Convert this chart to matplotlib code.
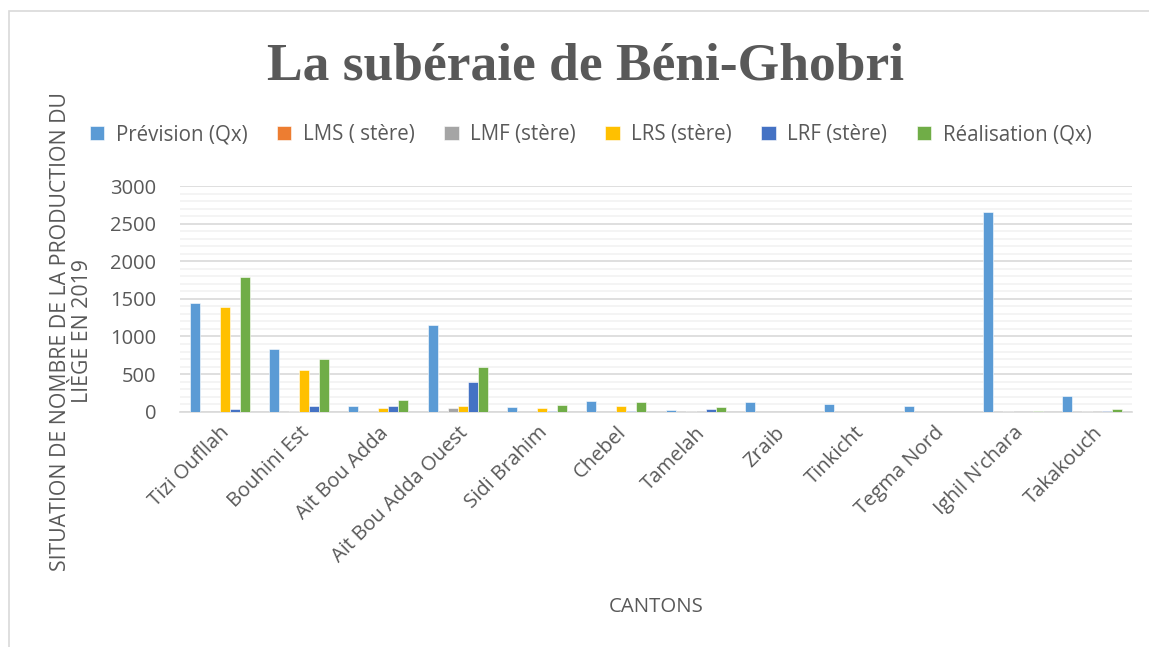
import numpy as np
import matplotlib
matplotlib.use("Agg")
import matplotlib.pyplot as plt
from matplotlib.patches import Rectangle
from matplotlib.ticker import MultipleLocator

cantons = ["Tizi Oufllah", "Bouhini Est", "Ait Bou Adda", "Ait Bou Adda Ouest",
           "Sidi Brahim", "Chebel", "Tamelah", "Zraib", "Tinkicht", "Tegma Nord",
           "Ighil N'chara", "Takakouch"]
series_names = ["Prévision (Qx)", "LMS ( stère)", "LMF (stère)", "LRS (stère)",
                "LRF (stère)", "Réalisation (Qx)"]
prevision = [1450, 840, 75, 1150, 60, 145, 20, 130, 100, 75, 2660, 215]
lms = [0, 0, 0, 0, 0, 0, 0, 0, 0, 0, 0, 0]
lmf = [0, 10, 0, 45, 0, 0, 10, 0, 0, 0, 3, 8]
lrs = [1390, 550, 50, 75, 50, 75, 0, 0, 0, 0, 0, 0]
lrf = [30, 80, 75, 390, 5, 10, 30, 0, 0, 0, 0, 5]
realisation = [1790, 700, 155, 600, 85, 125, 60, 0, 0, 0, 5, 30]
colors = ["#5B9BD5", "#ED7D31", "#A5A5A5", "#FFC000", "#4472C4", "#70AD47"]

txt = "#595959"
plt.rcParams['font.family'] = ['Open Sans', 'DejaVu Sans']

fig = plt.figure(figsize=(11.49, 6.47), dpi=100)
ax = fig.add_axes([180/1149, 1 - 411.7/647, 952/1149, (411.7 - 186)/647])

data = [prevision, lms, lmf, lrs, lrf, realisation]
x = np.arange(len(cantons))
w = 1 / (6 + 1.95)
for i, (vals, name, c) in enumerate(zip(data, series_names, colors)):
    ax.bar(x + (i - 2.5) * w, vals, w, color=c, label=name,
           edgecolor="white", linewidth=0.4, zorder=3)

ax.set_xlim(-0.5, len(cantons) - 0.5)
ax.set_ylim(0, 3000)
ax.yaxis.set_major_locator(MultipleLocator(500))
ax.yaxis.set_minor_locator(MultipleLocator(100))
ax.grid(which="major", axis="y", color="#D9D9D9", linewidth=1.2, zorder=0)
ax.grid(which="minor", axis="y", color="#F2F2F2", linewidth=1.2, zorder=0)
for s in ["left", "right", "top"]:
    ax.spines[s].set_visible(False)
ax.spines["bottom"].set_color("#D9D9D9")
ax.spines["bottom"].set_linewidth(1.2)
ax.tick_params(which="both", length=0, colors=txt, labelsize=14.5)
ax.tick_params(axis="y", pad=17)
ax.set_xticks(x)
ax.set_xticklabels(cantons, rotation=45, ha="right", rotation_mode="anchor")
ax.tick_params(axis="x", pad=8)

fig.text(0.5096, 0.897, "La subéraie de Béni-Ghobri", ha="center", va="center",
         fontsize=38.5, fontweight="bold", family="Liberation Serif", color=txt)
fig.text(0.062, 0.488, "SITUATION DE NOMBRE DE LA PRODUCTION DU\nLIÈGE EN 2019",
         rotation=90, ha="center", va="center", fontsize=15.3, color=txt,
         linespacing=1.05)
fig.text(0.571, 0.062, "CANTONS", ha="center", va="center", fontsize=14.7, color=txt)

fig.legend(loc="center", bbox_to_anchor=(0.514, 0.792), ncol=6, frameon=False,
           fontsize=14.8, handlelength=0.7, handleheight=0.7, handletextpad=0.55,
           columnspacing=1.45, labelcolor=txt)

fig.patches.append(Rectangle((9/1149, -0.01), 1.2, 1 - 11/647 + 0.01,
                             transform=fig.transFigure, fill=False,
                             edgecolor="#D9D9D9", linewidth=1.2))

fig.savefig("out.png", dpi=100)
